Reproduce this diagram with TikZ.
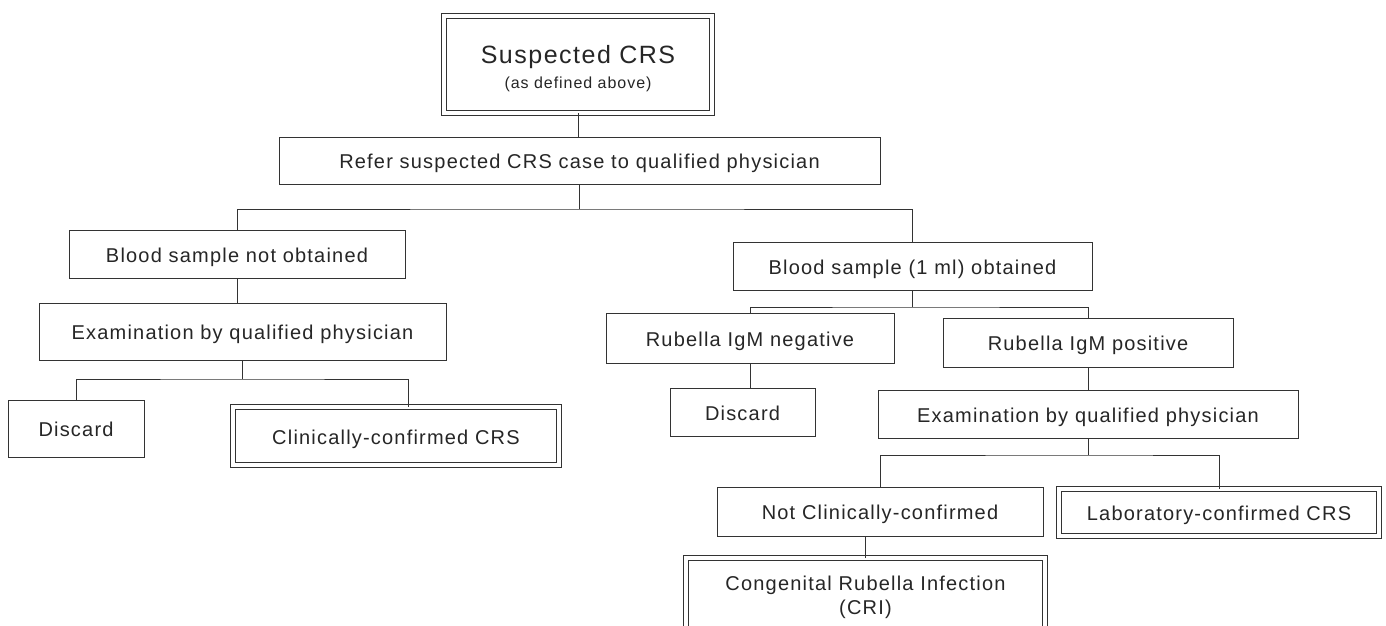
\documentclass[tikz,border=0pt]{standalone}
\usepackage{fontspec}
\setmainfont{Liberation Sans}[LetterSpace=6]
\begin{document}
\begin{tikzpicture}[x=1pt,y=-1pt,
  box/.style={draw=black!80, line width=0.85pt, inner sep=0pt, outer sep=0pt,
    font=\fontsize{20}{24}\selectfont, text=black!85, align=center},
  one/.style={box, text height=20pt, text depth=4pt},
  dbox/.style={box, double, double distance=3.8pt, line width=0.8pt},
  done/.style={dbox, text height=20pt, text depth=4pt},
  conn/.style={draw=black!80, line width=0.85pt}]
\useasboundingbox (0,0) rectangle (1386,626);
\clip (0,0) rectangle (1386,626);
\fill[white] (0,0) rectangle (1386,626);
% nodes
\node[dbox, minimum width=268pt, minimum height=97pt,
  label={[align=center, text=black!85, yshift=-4pt, font=\fontsize{16}{25}\selectfont]center:{\fontsize{25}{28}\selectfont Suspected CRS}\\(as defined above)}] (top) at (578,64.5) {};
\node[one, minimum width=601pt, minimum height=47pt] (refer) at (579.5,160.5)
  {Refer suspected CRS case to qualified physician};
\node[one, minimum width=336pt, minimum height=48pt] (bno) at (237,254)
  {Blood sample not obtained};
\node[one, minimum width=407pt, minimum height=57pt] (exL) at (242.5,331.5)
  {Examination by qualified physician};
\node[one, minimum width=136pt, minimum height=57pt] (dL) at (76,428.5)
  {Discard};
\node[done, minimum width=326pt, minimum height=58pt] (clin) at (396,436)
  {Clinically-confirmed CRS};
\node[one, minimum width=359pt, minimum height=48pt] (bo) at (912.5,266)
  {Blood sample (1 ml) obtained};
\node[one, minimum width=288pt, minimum height=50pt] (neg) at (750,338)
  {Rubella IgM negative};
\node[one, minimum width=290pt, minimum height=49pt] (pos) at (1088,342.5)
  {Rubella IgM positive};
\node[one, minimum width=145pt, minimum height=48pt] (dR) at (742.5,412)
  {Discard};
\node[one, minimum width=420pt, minimum height=48pt] (exR) at (1088,414)
  {Examination by qualified physician};
\node[one, minimum width=326pt, minimum height=49pt] (nc) at (880,511.5)
  {Not Clinically-confirmed};
\node[done, minimum width=320pt, minimum height=47pt] (lab) at (1219,512.5)
  {Laboratory-confirmed CRS};
\node[dbox, minimum width=359pt, minimum height=78pt] (cri) at (865.5,597)
  {Congenital Rubella Infection\\(CRI)};
% connectors
\draw[conn] (top.south) -- (top.south |- refer.north);
\draw[conn] (refer.south) -- ++(0,25) coordinate (j1);
\draw[conn] (bno.north) |- (j1) -| (bo.north);
\draw[conn] (bno.south) -- (bno.south |- exL.north);
\draw[conn] (exL.south) -- ++(0,19) coordinate (j2);
\draw[conn] (dL.north) |- (j2) -| ([xshift=12pt]clin.north);
\draw[conn] (bo.south) -- ++(0,17) coordinate (j3);
\draw[conn] (neg.north) |- (j3) -| (pos.north);
\draw[conn] (neg.south) -- (neg.south |- dR.north);
\draw[conn] (pos.south) -- (exR.north);
\draw[conn] (exR.south) -- ++(0,17) coordinate (j4);
\draw[conn] (nc.north) |- (j4) -| (lab.north);
\draw[conn] (cri.north) -- (cri.north |- nc.south);
\end{tikzpicture}
\end{document}
